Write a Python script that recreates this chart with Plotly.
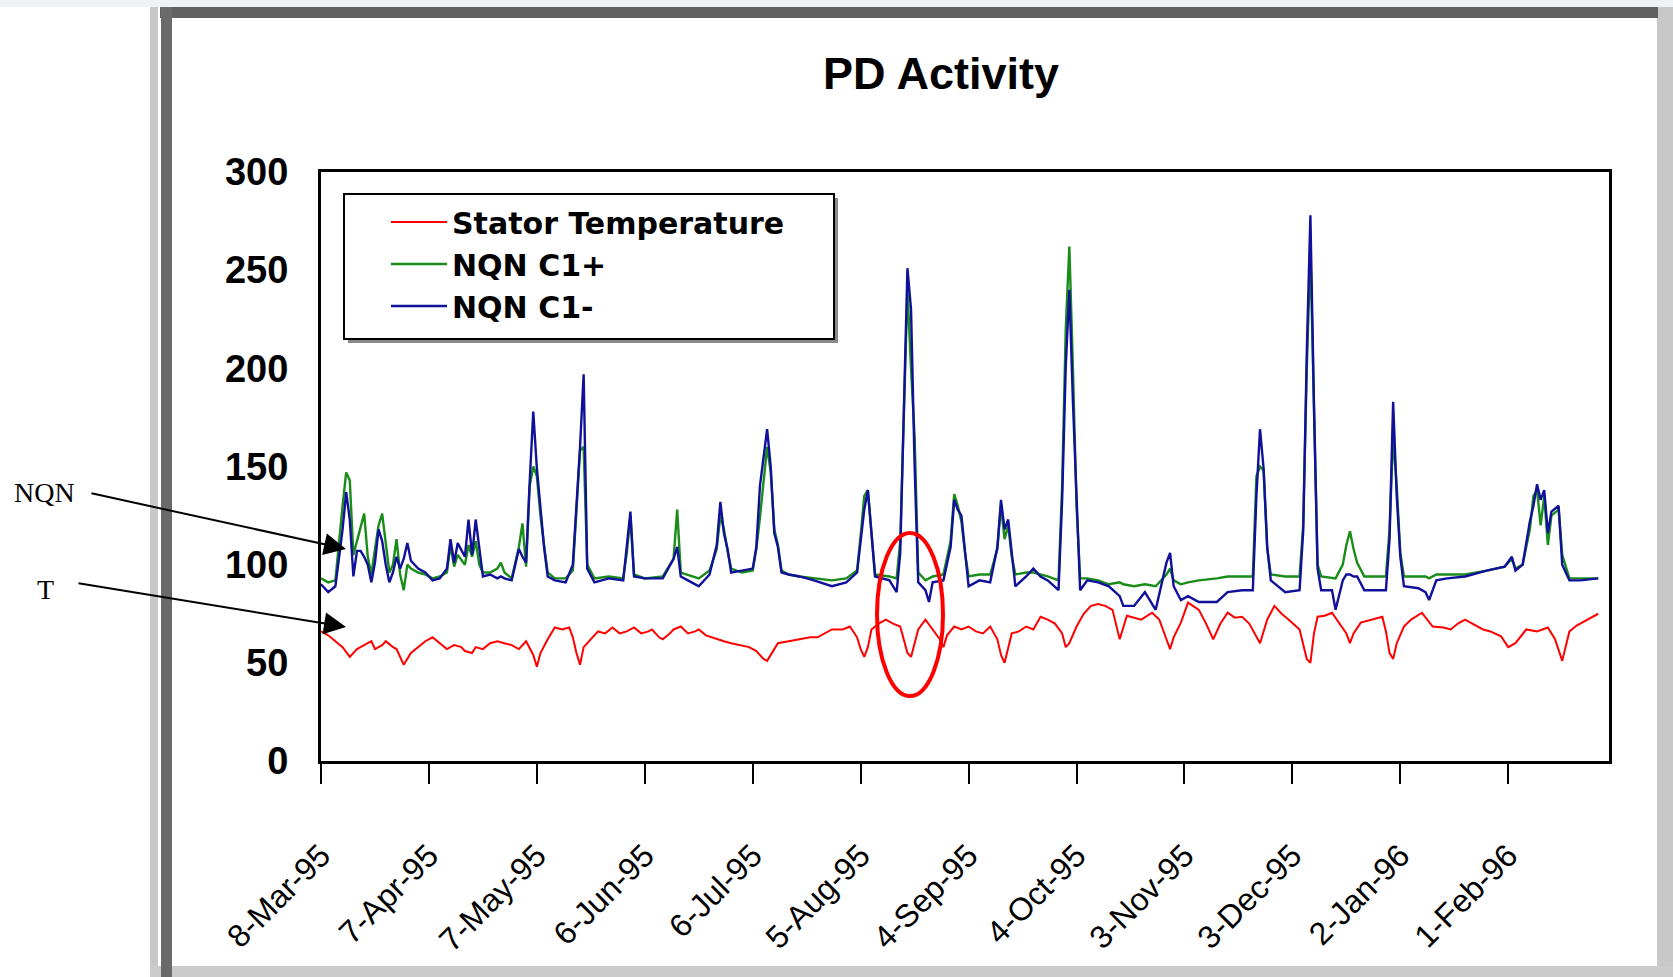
import plotly.graph_objects as go
import pandas as pd

# ---------------- data ----------------
start_date = "1995-03-08"
tick_days = [0, 30, 60, 90, 120, 150, 180, 210, 240, 270, 300, 330]
tick_labels = ["8-Mar-95", "7-Apr-95", "7-May-95", "6-Jun-95", "6-Jul-95", "5-Aug-95",
               "4-Sep-95", "4-Oct-95", "3-Nov-95", "3-Dec-95", "2-Jan-96", "1-Feb-96"]
y_ticks = [0, 50, 100, 150, 200, 250, 300]

temp_days = [
    0, 2, 4, 6, 8, 10, 12, 14, 15, 17,
    18, 20, 21, 23, 25, 27, 29, 31, 33, 35,
    37, 39, 40, 42, 43, 45, 47, 49, 51, 53,
    55, 57, 59, 60, 61, 63, 65, 67, 69, 70,
    71, 72, 73, 75, 77, 79, 81, 83, 85, 87,
    89, 91, 92, 94, 95, 97, 98, 100, 102, 104,
    105, 107, 110, 112, 114, 117, 119, 121, 123, 124,
    125, 127, 130, 133, 136, 138, 140, 142, 145, 147,
    149, 150, 151, 152, 153, 155, 157, 159, 161, 162,
    163, 164, 165, 166, 168, 170, 172, 173, 174, 176,
    178, 180, 182, 184, 186, 188, 189, 190, 191, 192,
    194, 196, 198, 200, 202, 204, 206, 207, 208, 210,
    212, 214, 216, 218, 220, 221, 222, 224, 226, 228,
    231, 233, 235, 236, 237, 239, 241, 243, 244, 246,
    248, 250, 252, 254, 256, 258, 260, 261, 263, 265,
    267, 269, 272, 273, 274, 275, 276, 277, 279, 281,
    283, 285, 286, 287, 289, 292, 295, 296, 297, 298,
    299, 301, 303, 306, 308, 309, 312, 314, 316, 318,
    320, 323, 325, 328, 330, 332, 335, 338, 341, 343,
    345, 346, 347, 349, 351, 353, 355]
stator_temperature = [
    66, 64, 61, 58, 53, 57, 59, 61, 57, 59,
    61, 58, 57, 49, 55, 58, 61, 63, 60, 57,
    59, 58, 56, 55, 58, 57, 60, 61, 60, 59,
    57, 61, 54, 48, 55, 62, 68, 67, 68, 63,
    55, 49, 58, 62, 66, 65, 68, 65, 66, 68,
    65, 66, 67, 63, 62, 65, 67, 68.5, 65, 66,
    67, 64, 62, 61, 60, 59, 58, 56, 52, 51,
    54, 60, 61, 62, 63, 63, 65, 67, 67, 68.5,
    63, 57, 53, 58, 67, 70, 72, 70, 68.5, 62,
    55, 53, 60, 67, 72, 67, 62, 58, 64, 68.5,
    67, 68.5, 66, 65, 68.5, 62, 54, 50, 58, 65,
    66, 68.5, 67, 73.5, 72, 70, 65, 58, 60, 68.5,
    75, 79, 80, 79, 77, 70, 62, 74, 73, 72,
    75.5, 72, 62, 57, 63, 70.5, 80.7, 78, 77, 70,
    62, 70, 75.5, 73, 73.5, 70, 63, 60, 72, 79,
    75, 72, 67, 60, 52, 50, 65, 73.5, 74, 75.5,
    70.5, 65, 60, 65, 70.5, 72, 73.5, 66, 55, 52,
    60, 68.5, 72, 75.5, 71, 68.5, 68, 67, 70, 72,
    70, 67, 66, 63.5, 58, 60, 67, 66, 68, 62,
    51, 58, 66, 69, 71, 73, 75]

nqn_days = [
    0, 1, 2, 4, 5, 6, 7, 8, 9, 10,
    11, 12, 13, 14, 15, 16, 17, 18, 19, 20,
    21, 22, 23, 24, 25, 27, 29, 31, 33, 35,
    36, 37, 38, 40, 41, 42, 43, 44, 45, 47,
    49, 50, 51, 53, 55, 56, 57, 58, 59, 60,
    61, 62, 63, 65, 68, 70, 71, 72, 73, 74,
    76, 80, 84, 85, 86, 87, 90, 95, 98, 99,
    100, 103, 105, 108, 110, 111, 112, 113, 114, 117,
    120, 121, 122, 124, 125, 126, 127, 128, 130, 133,
    137, 142, 146, 149, 150, 151, 152, 153, 154, 158,
    160, 161, 162, 163, 164, 165, 166, 168, 169, 170,
    173, 175, 176, 177, 178, 179, 180, 183, 186, 188,
    189, 190, 191, 192, 193, 196, 198, 200, 202, 205,
    206, 207, 208, 209, 210, 211, 213, 216, 219, 222,
    223, 226, 229, 232, 235, 236, 237, 239, 241, 244,
    249, 252, 256, 259, 260, 261, 262, 263, 264, 268,
    272, 273, 274, 275, 276, 277, 278, 281, 282, 284,
    285, 286, 287, 288, 290, 293, 296, 297, 298, 299,
    300, 301, 305, 307, 308, 310, 313, 318, 324, 329,
    331, 332, 334, 336, 337, 338, 339, 340, 341, 342,
    344, 345, 347, 350, 355]
nqn_c1_plus = [
    93, 92, 91, 92, 112, 130, 147, 143, 105, 112,
    118, 126, 104, 95, 108, 120, 126, 110, 96, 100,
    113, 95, 87, 100, 98, 96, 95, 93, 94, 96,
    110, 99, 105, 100, 110, 104, 112, 100, 96, 96,
    98, 101, 96, 93, 109, 121, 99, 140, 150, 145,
    125, 110, 96, 93, 93, 97, 125, 158, 160, 100,
    93, 94, 93, 106, 125, 95, 93, 94, 103, 128,
    96, 94, 93, 97, 108, 125, 118, 107, 98, 96,
    97, 108, 124, 160, 147, 118, 110, 97, 95, 94,
    93, 92, 93, 97, 115, 135, 138, 115, 95, 94,
    93, 112, 175, 240, 200, 165, 96, 92, 93, 94,
    95, 112, 136, 130, 122, 106, 94, 95, 95, 108,
    130, 113, 120, 104, 95, 96, 96, 95, 94, 92,
    140, 220, 262, 200, 130, 93, 93, 92, 90, 91,
    90, 89, 90, 89, 95, 98, 92, 90, 91, 92,
    93, 94, 94, 94, 145, 150, 148, 108, 95, 94,
    94, 120, 200, 260, 180, 100, 94, 93, 93, 100,
    110, 117, 108, 101, 94, 94, 94, 118, 165, 140,
    106, 94, 94, 94, 93, 95, 95, 95, 97, 99,
    103, 98, 100, 118, 135, 138, 120, 135, 110, 125,
    128, 105, 93, 93, 93]
nqn_c1_minus = [
    90, 88, 86, 89, 103, 118, 137, 123, 94, 107,
    107, 104, 100, 91, 101, 118, 112, 100, 91, 96,
    104, 98, 103, 111, 102, 98, 96, 92, 93, 98,
    113, 101, 111, 104, 123, 105, 123, 108, 94, 95,
    93, 94, 93, 92, 108, 104, 101, 142, 178, 149,
    130, 109, 94, 92, 91, 100, 130, 160, 197, 98,
    91, 93, 92, 108, 127, 94, 93, 93, 103, 109,
    94, 91, 89, 95, 110, 132, 116, 108, 96, 97,
    98, 109, 140, 169, 150, 116, 109, 96, 95, 94,
    92, 89, 91, 96, 113, 128, 138, 116, 94, 92,
    86, 106, 176, 251, 230, 150, 91, 87, 81, 91,
    92, 109, 133, 128, 125, 108, 89, 92, 91, 109,
    133, 118, 123, 106, 89, 94, 98, 94, 92, 87,
    133, 201, 240, 183, 133, 87, 92, 91, 89, 84,
    79, 79, 86, 77, 101, 106, 89, 82, 84, 81,
    81, 86, 87, 87, 135, 169, 149, 109, 92, 86,
    87, 117, 208, 278, 181, 98, 87, 87, 77, 92,
    95, 95, 94, 94, 87, 87, 87, 113, 183, 135,
    104, 89, 88, 86, 82, 92, 93, 94, 97, 99,
    104, 97, 100, 122, 130, 141, 133, 138, 116, 127,
    130, 100, 92, 92, 93]

# ---------------- helpers ----------------
W, H = 1673, 977
L, R, T, B = 321, 1609, 172, 761


def pxp(x):
    return (x - L) / (R - L)


def pyp(y):
    return (B - y) / (B - T)


start = pd.Timestamp(start_date)


def to_dates(days):
    return [start + pd.Timedelta(days=d) for d in days]


FONT = "Liberation Sans, Arial, sans-serif"
LEG_FONT = "DejaVu Sans, Liberation Sans, sans-serif"
SERIF = "Liberation Serif, Times New Roman, serif"

fig = go.Figure()
fig.add_trace(go.Scatter(x=to_dates(temp_days), y=stator_temperature, mode="lines",
                         name="Stator Temperature", line=dict(color="#ff0000", width=2)))
fig.add_trace(go.Scatter(x=to_dates(nqn_days), y=nqn_c1_plus, mode="lines",
                         name="NQN C1+", line=dict(color="#1a8c1a", width=2.4)))
fig.add_trace(go.Scatter(x=to_dates(nqn_days), y=nqn_c1_minus, mode="lines",
                         name="NQN C1-", line=dict(color="#10109a", width=2.4)))

shapes = []


def rect(x0, y0, x1, y1, fill, line_color=None, lw=0, layer="above"):
    shapes.append(dict(type="rect", xref="paper", yref="paper",
                       x0=pxp(x0), x1=pxp(x1), y0=pyp(y1), y1=pyp(y0),
                       fillcolor=fill, layer=layer,
                       line=dict(width=lw, color=line_color or fill)))


# outer window frame
rect(0, 0, W, 7, "#eef2f6")
rect(150, 7, 158, H, "#c8c8c8")
rect(1657, 7, W, H, "#c8c8c8")
rect(150, 966, W, H, "#cccccc")
rect(160, 7, 1658, 18, "#606060")
rect(161, 7, 172, H, "#6a6a6a")
# legend box with shadow
rect(348, 198, 838, 343, "#8a8a8a")
rect(344, 194, 834, 339, "white", "black", 2)
# highlight ellipse
shapes.append(dict(type="circle", xref="paper", yref="paper",
                   x0=pxp(877), x1=pxp(943), y0=pyp(696), y1=pyp(533),
                   line=dict(color="#ff0000", width=4), layer="above"))

annotations = [
    dict(text="NQN", x=pxp(44), y=pyp(493), xref="paper", yref="paper", showarrow=False,
         xanchor="center", yanchor="middle",
         font=dict(family=SERIF, size=28, color="black")),
    dict(text="T", x=pxp(45), y=pyp(589), xref="paper", yref="paper", showarrow=False,
         xanchor="center", yanchor="middle",
         font=dict(family=SERIF, size=28, color="black")),
    dict(text="", x=pxp(346), y=pyp(549), xref="paper", yref="paper", showarrow=True,
         ax=90 - 346, ay=493 - 549, arrowhead=2, arrowsize=2.2, arrowwidth=2,
         arrowcolor="black"),
    dict(text="", x=pxp(346), y=pyp(627), xref="paper", yref="paper", showarrow=True,
         ax=77 - 346, ay=583 - 627, arrowhead=2, arrowsize=2.2, arrowwidth=2,
         arrowcolor="black"),
]

fig.update_layout(
    width=W, height=H,
    margin=dict(l=L, r=W - R, t=T, b=H - B, pad=0),
    paper_bgcolor="white", plot_bgcolor="white",
    title=dict(text="PD Activity", x=pxp(941), xref="paper", xanchor="center",
               y=1 - 73 / H, yref="container", yanchor="middle",
               font=dict(family=FONT, size=45, color="black", weight="bold")),
    showlegend=True,
    legend=dict(x=pxp(386), y=pyp(196), xanchor="left", yanchor="top",
                bgcolor="rgba(0,0,0,0)", borderwidth=0, itemwidth=56,
                font=dict(family=LEG_FONT, size=30, color="black", weight="bold"),
                tracegroupgap=0),
    shapes=shapes,
    annotations=annotations,
    xaxis=dict(type="date", range=[start, start + pd.Timedelta(days=358)],
               tickmode="array", tickvals=to_dates(tick_days), ticktext=tick_labels,
               tickangle=-45, ticks="outside", ticklen=20, tickwidth=2, tickcolor="black",
               showline=True, linewidth=3, linecolor="black", mirror=True,
               showgrid=False, zeroline=False, ticklabelstandoff=40,
               tickfont=dict(family=FONT, size=32, color="black")),
    yaxis=dict(range=[0, 300], tickmode="array", tickvals=y_ticks,
               ticks="", showline=True, linewidth=3, linecolor="black", mirror=True,
               showgrid=False, zeroline=False, ticklabelstandoff=22,
               tickfont=dict(family=FONT, size=38, color="black", weight="bold")),
)

fig.write_html("out.html", config={"displayModeBar": False},
               post_script="document.body.style.margin='0px';")
